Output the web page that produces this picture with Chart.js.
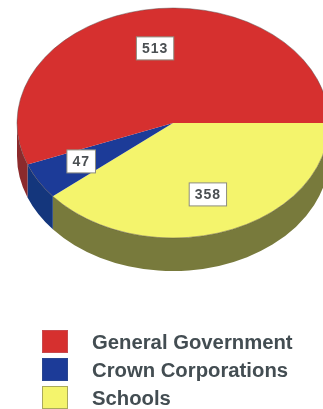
<!DOCTYPE html>
<html>
<head>
<meta charset="utf-8">
<script src="https://cdn.jsdelivr.net/npm/chart.js@4"></script>
<style>
html, body { margin: 0; padding: 0; background: #fff; overflow: hidden; }
#wrap { width: 323px; height: 409px; position: relative; }
#myChart { filter: blur(0.5px); }
</style>
</head>
<body>
<div id="wrap"><canvas id="myChart"></canvas></div>
<script>
// legend order
var categories = ['General Government', 'Crown Corporations', 'Schools'];
var values = [513, 47, 358];
var topColors = ['#d6302f', '#1c3b98', '#f4f46c'];
var sideColors = ['#8c2a2c', '#14367c', '#787a3c'];
var legendEdges = ['#c84a4e', '#2a4690', '#a9a95c'];
var labelNudgeX = [1, -3, 0];

// the chart is a plain pie, squashed and moved to where the tilted disc sits
var centerX = 173;
var centerY = 123;
var radiusX = 156;
var radiusY = 115;
var depth = 33;
var labelRadius = 0.66;

// pie runs clockwise from 3 o'clock, so slices go in reverse legend order
function reversed(arr) {
    return arr.slice().reverse();
}

var tiltPlugin = {
    id: 'tilt',
    beforeDatasetsDraw: function (chart) {
        var ctx = chart.ctx;
        var arcs = chart.getDatasetMeta(0).data;
        var sides = reversed(sideColors);
        var a0 = arcs[0];
        var sy = radiusY / a0.outerRadius;
        ctx.save();
        ctx.translate(centerX, centerY);
        ctx.scale(radiusX / a0.outerRadius, sy);
        ctx.translate(-a0.x, -a0.y);
        // side wall, only the front half can be seen
        var d = depth / sy;
        arcs.forEach(function (a, i) {
            var s = Math.max(a.startAngle, 0);
            var e = Math.min(a.endAngle, Math.PI);
            if (e <= s) return;
            ctx.beginPath();
            ctx.arc(a.x, a.y, a.outerRadius, s, e);
            ctx.arc(a.x, a.y + d, a.outerRadius, e, s, true);
            ctx.closePath();
            ctx.fillStyle = sides[i];
            ctx.fill();
        });
    },
    afterDatasetsDraw: function (chart) {
        var ctx = chart.ctx;
        var arcs = chart.getDatasetMeta(0).data;
        var a0 = arcs[0];
        // thin rim
        ctx.beginPath();
        ctx.arc(a0.x, a0.y, a0.outerRadius, 0, Math.PI * 2);
        ctx.strokeStyle = 'rgba(90,80,80,0.55)';
        ctx.lineWidth = 1;
        ctx.stroke();
        ctx.restore();
        drawValueBoxes(chart, arcs);
        drawLegend(chart);
    }
};

function drawValueBoxes(chart, arcs) {
    var ctx = chart.ctx;
    var vals = reversed(values);
    var nudges = reversed(labelNudgeX);
    ctx.save();
    ctx.font = 'bold 14px "Liberation Sans"';
    ctx.letterSpacing = '1px';
    ctx.textAlign = 'center';
    ctx.textBaseline = 'middle';
    arcs.forEach(function (a, i) {
        var mid = (a.startAngle + a.endAngle) / 2;
        var x = centerX + radiusX * labelRadius * Math.cos(mid) + nudges[i];
        var y = centerY + radiusY * labelRadius * Math.sin(mid);
        var txt = String(vals[i]);
        var w = ctx.measureText(txt).width + 11;
        var h = 23;
        ctx.fillStyle = '#ffffff';
        ctx.fillRect(x - w / 2, y - h / 2, w, h);
        ctx.strokeStyle = '#8d8d80';
        ctx.lineWidth = 1;
        ctx.strokeRect(x - w / 2, y - h / 2, w, h);
        ctx.fillStyle = '#4a4f52';
        ctx.fillText(txt, x, y + 0.5);
    });
    ctx.restore();
}

function drawLegend(chart) {
    var ctx = chart.ctx;
    ctx.save();
    ctx.font = 'bold 20.3px "Liberation Sans"';
    ctx.textBaseline = 'middle';
    categories.forEach(function (name, i) {
        var top = 330 + i * 28;
        ctx.fillStyle = topColors[i];
        ctx.fillRect(42, top, 26, 23);
        ctx.strokeStyle = legendEdges[i];
        ctx.lineWidth = 1;
        ctx.strokeRect(42.5, top + 0.5, 25, 22);
        ctx.fillStyle = '#434d52';
        ctx.fillText(name, 92, top + 13);
    });
    ctx.restore();
}

var ctx = document.getElementById('myChart');
var myChart = new Chart(ctx, {
    type: 'pie',
    data: {
        labels: reversed(categories),
        datasets: [{
            data: reversed(values),
            backgroundColor: reversed(topColors),
            borderWidth: 0,
            clip: false
        }]
    },
    options: {
        responsive: true,
        maintainAspectRatio: false,
        animation: false,
        rotation: 90,
        layout: { padding: { bottom: 97 } },
        plugins: {
            legend: { display: false },
            tooltip: { enabled: false }
        }
    },
    plugins: [tiltPlugin]
});
</script>
</body>
</html>
